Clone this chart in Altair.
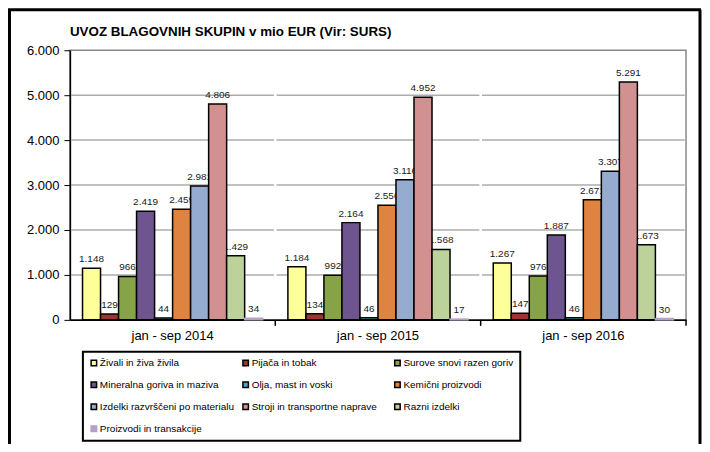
import altair as alt
import pandas as pd

title = "UVOZ BLAGOVNIH SKUPIN v mio EUR (Vir: SURS)"
groups = ["jan - sep 2014", "jan - sep 2015", "jan - sep 2016"]
cats = [
    "Živali in živa živila",
    "Pijača in tobak",
    "Surove snovi razen goriv",
    "Mineralna goriva in maziva",
    "Olja, mast in voski",
    "Kemični proizvodi",
    "Izdelki razvrščeni po materialu",
    "Stroji in transportne naprave",
    "Razni izdelki",
    "Proizvodi in transakcije",
]
v2014 = [1148, 129, 966, 2419, 44, 2459, 2981, 4806, 1429, 34]
v2015 = [1184, 134, 992, 2164, 46, 2550, 3116, 4952, 1568, 17]
v2016 = [1267, 147, 976, 1887, 46, 2671, 3307, 5291, 1673, 30]
colors = ["#FFFF99", "#A0332F", "#87A348", "#6F5590", "#4AA8C0",
          "#DE8440", "#95ABD0", "#D29090", "#BDD29A", "#B3A2C6"]
strokes = ["#000000"] * 9 + ["#B3A2C6"]
y_ticks = [0, 1000, 2000, 3000, 4000, 5000, 6000]

rows = []
for g, vals in zip(groups, [v2014, v2015, v2016]):
    for c, v in zip(cats, vals):
        rows.append({"group": g, "cat": c, "value": v,
                     "label": f"{v:,}".replace(",", ".")})
df = pd.DataFrame(rows)

grid = pd.DataFrame([{"group": g, "value": t} for g in groups for t in y_ticks[1:-1]])
seps = pd.DataFrame({"group": groups})

FONT = "Liberation Sans"

x_enc = alt.X("group:N", sort=groups, scale=alt.Scale(paddingInner=0, paddingOuter=0),
              axis=alt.Axis(title=None, labelAngle=0, ticks=False, labelFontSize=13,
                            labelPadding=10, labelColor="black", labelFont=FONT,
                            domainColor="black", domainWidth=1.5))
y_enc = alt.Y("value:Q", scale=alt.Scale(domain=[0, 6000], nice=False),
              axis=alt.Axis(title=None, values=y_ticks, grid=False, tickSize=6,
                            tickColor="black", labelFontSize=13, labelColor="black",
                            labelFont=FONT, labelPadding=5, domainColor="black",
                            domainWidth=1.5,
                            labelExpr="replace(format(datum.value, ','), ',', '.')"))
xo = alt.XOffset("cat:N", sort=cats, scale=alt.Scale(paddingInner=0, paddingOuter=0.7))

gridlines = alt.Chart(grid).mark_tick(size=203, thickness=1.5, color="#8a8a8a").encode(
    x=x_enc, y=y_enc)

labels = alt.Chart(df).mark_text(dy=-4, baseline="bottom", fontSize=10, font=FONT,
                                 color="#1a1a1a").encode(
    x=x_enc, xOffset=xo, y=y_enc, text="label:N")

leg = alt.Legend(title=None, orient="none", legendX=13, legendY=302, columns=3,
                 direction="horizontal",
                 symbolType="square", symbolSize=30, symbolStrokeWidth=1.5,
                 symbolStrokeColor="black",
                 labelFontSize=10, labelFont=FONT, labelColor="black",
                 columnPadding=5, rowPadding=10, padding=6, strokeColor="black",
                 labelOffset=1, gridAlign="all")

bars = alt.Chart(df).mark_bar(strokeWidth=1.5).encode(
    x=x_enc, xOffset=xo, y=y_enc,
    color=alt.Color("cat:N", sort=cats, scale=alt.Scale(domain=cats, range=colors), legend=leg),
    stroke=alt.Stroke("cat:N", scale=alt.Scale(domain=cats, range=strokes), legend=None),
)

sep_rules = alt.Chart(seps).mark_rule(color="black", strokeWidth=1.5).encode(
    x=alt.X("group:N", sort=groups, bandPosition=1),
    y=alt.value(270), y2=alt.value(276))

frame_df = pd.DataFrame({"k": [0]})
title_mark = alt.Chart(frame_df).mark_text(
    align="left", baseline="middle", fontSize=13.4, fontWeight="bold", font=FONT,
    color="black").encode(x=alt.value(0), y=alt.value(-18), text=alt.value(title))
frame_left = alt.Chart(frame_df).mark_rule(color="black", strokeWidth=3).encode(
    x=alt.value(-60.5), y=alt.value(-40.5), y2=alt.value(420))
frame_top = alt.Chart(frame_df).mark_rule(color="black", strokeWidth=3).encode(
    x=alt.value(-62), x2=alt.value(632), y=alt.value(-40.5))
frame_right = alt.Chart(frame_df).mark_rule(color="black", strokeWidth=3).encode(
    x=alt.value(631), y=alt.value(-40.5), y2=alt.value(420))

chart = alt.layer(gridlines, labels, bars, sep_rules, title_mark,
                  frame_left, frame_top, frame_right).properties(
    width=617, height=270,
    padding={"left": 62, "top": 42, "right": 16, "bottom": 124},
    autosize=alt.AutoSizeParams(type="none"),
).configure_view(stroke="#888888", strokeWidth=1.5).configure_legend(strokeWidth=2)

chart.save("out.html", embed_options={"renderer": "svg", "actions": False})
